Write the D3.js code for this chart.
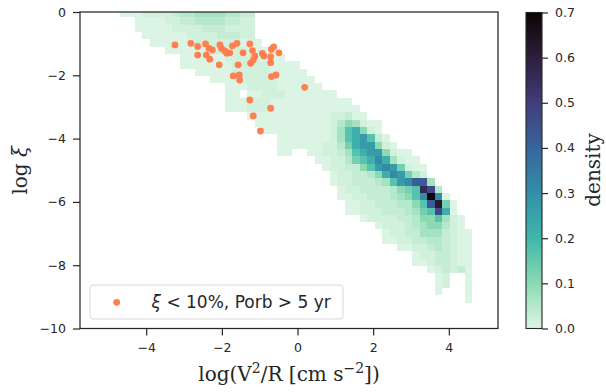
<!DOCTYPE html>
<html>
<head>
<meta charset="utf-8">
<script src="https://cdn.jsdelivr.net/npm/d3@7"></script>
<style>
  html, body { margin: 0; padding: 0; background: #fff; }
  svg { display: block; }
</style>
</head>
<body>
<div id="chart"></div>
<script>
// 2D density of log xi against log(V^2/R), with the long-period, low-xi systems on top.

// Histogram bin grid (data units)
const xBinStart  = -4.697;
const xBinWidth  = 0.1983;
const yBinTop    = 0.064;
const yBinHeight = 0.2312;

// One character per cell -> density
const densityLevels = {
  "1": 0.003, "2": 0.015, "3": 0.03, "4": 0.05, "5": 0.07, "6": 0.10,
  "7": 0.13,  "8": 0.17,  "9": 0.22, "a": 0.27, "b": 0.31, "c": 0.36,
  "d": 0.42,  "e": 0.47,  "f": 0.52, "g": 0.56, "h": 0.62, "i": 0.69
};

// [row, first column, levels]
const heatRows = [
  [0, 0, "111222234455554433"],
  [1, 2, "1111223344443322"],
  [2, 2, "1111122223332222"],
  [3, 3, "111111222233322"],
  [4, 4, "111111222222111"],
  [5, 6, "111111222221111"],
  [6, 8, "11111122221111"],
  [7, 8, "1111111222221111"],
  [8, 10, "111112222211111"],
  [9, 12, "11112222211111"],
  [10, 14, "1112222111111"],
  [11, 14, "11"], [11, 17, "112221111111"],
  [12, 14, "11122211111111111"],
  [13, 14, "111222111111111111"],
  [14, 17, "1111111111122311"],
  [15, 18, "11111111112465211"],
  [16, 19, "1111111112589621"],
  [17, 21, "11111112589a831"],
  [18, 21, "11111122479aa621"],
  [19, 21, "11"], [19, 25, "11223589aa6211"],
  [20, 26, "11224789b95211"],
  [21, 27, "1223368aba7211"],
  [22, 28, "12233469ba742"],
  [23, 28, "122333458abdd5"],
  [24, 29, "12233334678ge4"],
  [25, 29, "11223334568bib1"],
  [26, 30, "11223334468dh71"],
  [27, 30, "112223334578e91"],
  [28, 32, "12222334668521"],
  [29, 34, "122234566421"],
  [30, 35, "122335553211"],
  [31, 35, "112233443211"],
  [32, 37, "1122343211"],
  [33, 39, "12233211"],
  [34, 39, "11233211"],
  [35, 41, "123231"],
  [36, 42, "12"], [36, 46, "1"],
  [37, 42, "12"], [37, 46, "1"],
  [38, 42, "1"],  [38, 46, "1"],
  [39, 46, "1"]
];

// Systems with xi < 10% and Porb > 5 yr
const scatterX = [-3.24, -2.82, -2.64, -2.64, -2.43, -2.34, -2.25, -2.41, -2.32, -2.05,
                  -2.01, -1.92, -1.87, -1.79, -1.72, -1.60, -2.07, -1.57, -1.44, -1.26,
                  -1.19, -1.13, -1.17, -1.24, -0.89, -0.71, -0.69, -0.63, -0.71, -0.49,
                  -1.70, -1.54, -1.53, -0.69, -0.57,  0.19, -1.26, -0.71, -1.17, -0.98,
                  -0.93];
const scatterY = [-1.04, -0.99, -1.09, -1.36, -1.01, -1.15, -1.20, -1.36, -1.49, -1.04,
                  -1.15, -1.23, -1.30, -1.29, -1.07, -0.99, -1.67, -1.67, -1.29, -1.01,
                  -1.22, -1.39, -1.52, -1.62, -1.39, -1.41, -1.18, -1.10, -1.60, -1.29,
                  -2.02, -1.99, -2.15, -2.04, -1.99, -2.38, -2.78, -3.04, -3.28, -3.76,
                  -1.31];

const xTicks    = [-4, -2, 0, 2, 4];
const yTicks    = [0, -2, -4, -6, -8, -10];
const cbarTicks = [0, 0.1, 0.2, 0.3, 0.4, 0.5, 0.6, 0.7];

// mako, reversed
const cmapStops  = [0, 0.1, 0.2, 0.3, 0.4, 0.5, 0.6, 0.7];
const cmapColors = ["#def5e5", "#8bdab2", "#40b7ad", "#348fa7", "#37659e", "#413d7b", "#2e1e3b", "#0b0405"];

const legendLabel = "< 10%, Porb > 5 yr";

const W = 606, H = 392;
const m = { left: 80, right: 498, top: 12, bottom: 328.5 };
const INK  = "#262626";
const SANS = "DejaVu Sans, sans-serif";
const SERIF = "DejaVu Serif, serif";

const x = d3.scaleLinear().domain([-5.75, 5.3]).range([m.left, m.right]);
const y = d3.scaleLinear().domain([-10, 0]).range([m.bottom, m.top]);
const color = d3.scaleLinear().domain(cmapStops).range(cmapColors).clamp(true);

const svg = d3.select("#chart").append("svg")
  .attr("width", W).attr("height", H)
  .attr("viewBox", `0 0 ${W} ${H}`);

svg.append("clipPath").attr("id", "plot-clip")
  .append("rect")
    .attr("x", m.left).attr("y", m.top)
    .attr("width", m.right - m.left).attr("height", m.bottom - m.top);

// Heatmap cells
const cells = [];
heatRows.forEach(([row, col0, levels]) => {
  [...levels].forEach((ch, k) => {
    cells.push({ row, col: col0 + k, v: densityLevels[ch] });
  });
});

svg.append("g")
  .attr("clip-path", "url(#plot-clip)")
  .attr("shape-rendering", "crispEdges")
  .selectAll("rect")
  .data(cells)
  .join("rect")
    .attr("x", d => x(xBinStart + d.col * xBinWidth))
    .attr("y", d => y(yBinTop - d.row * yBinHeight))
    .attr("width", d => x(xBinStart + (d.col + 1) * xBinWidth) - x(xBinStart + d.col * xBinWidth))
    .attr("height", d => y(yBinTop - (d.row + 1) * yBinHeight) - y(yBinTop - d.row * yBinHeight))
    .attr("fill", d => color(d.v));

// Scatter
svg.append("g")
  .selectAll("circle")
  .data(scatterX.map((v, i) => [v, scatterY[i]]))
  .join("circle")
    .attr("cx", d => x(d[0]))
    .attr("cy", d => y(d[1]))
    .attr("r", 3.4)
    .attr("fill", "#ff7f50");

// Axes
function styleAxis(g) {
  g.select(".domain").remove();
  g.selectAll(".tick line").attr("stroke", INK).attr("stroke-width", 1.2);
  g.selectAll(".tick text")
    .attr("fill", INK)
    .attr("font-size", "12.5px")
    .attr("font-family", SANS);
}

svg.append("g")
  .attr("transform", `translate(0,${m.bottom})`)
  .call(d3.axisBottom(x).tickValues(xTicks).tickSize(7).tickPadding(8))
  .call(styleAxis);

svg.append("g")
  .attr("transform", `translate(${m.left},0)`)
  .call(d3.axisLeft(y).tickValues(yTicks).tickSize(7).tickPadding(7))
  .call(styleAxis);

// Spines
svg.append("rect")
  .attr("x", m.left).attr("y", m.top)
  .attr("width", m.right - m.left).attr("height", m.bottom - m.top)
  .attr("fill", "none")
  .attr("stroke", INK)
  .attr("stroke-width", 1.25);

// Axis labels
const xl = svg.append("text")
  .attr("x", (m.left + m.right) / 2).attr("y", 381)
  .attr("text-anchor", "middle")
  .attr("font-family", SERIF).attr("font-size", "20px")
  .attr("fill", INK);
xl.append("tspan").text("log(V");
xl.append("tspan").attr("dy", -8).attr("font-size", "14px").text("2");
xl.append("tspan").attr("dy", 8).text("/R [cm s");
xl.append("tspan").attr("dy", -8).attr("font-size", "14px").text("\u22122");
xl.append("tspan").attr("dy", 8).text("])");

const yl = svg.append("text")
  .attr("transform", `translate(27,${(m.top + m.bottom) / 2}) rotate(-90)`)
  .attr("text-anchor", "middle")
  .attr("font-family", SERIF).attr("font-size", "20px")
  .attr("fill", INK);
yl.append("tspan").text("log ");
yl.append("tspan").attr("font-style", "italic").text("\u03be");

// Legend
const lg = svg.append("g");
lg.append("rect")
  .attr("x", 90).attr("y", 285)
  .attr("width", 253).attr("height", 34)
  .attr("rx", 3)
  .attr("fill", "#fff").attr("fill-opacity", 0.8)
  .attr("stroke", "#d6d6d6").attr("stroke-width", 1);
lg.append("circle")
  .attr("cx", 116.7).attr("cy", 302.3).attr("r", 3.4)
  .attr("fill", "#ff7f50");
const lt = lg.append("text")
  .attr("x", 151.5).attr("y", 308)
  .attr("font-family", SANS).attr("font-size", "17px")
  .attr("fill", INK);
lt.append("tspan").attr("font-style", "italic").text("\u03be");
lt.append("tspan").text(" " + legendLabel);

// Colorbar
const cb = { left: 526, right: 542, top: 12.5, bottom: 328.5 };
const cy = d3.scaleLinear().domain([0, 0.7]).range([cb.bottom, cb.top]);

const grad = svg.append("defs").append("linearGradient")
  .attr("id", "cbar-grad")
  .attr("x1", 0).attr("y1", 1).attr("x2", 0).attr("y2", 0);
grad.selectAll("stop")
  .data(cmapStops)
  .join("stop")
    .attr("offset", d => d / 0.7)
    .attr("stop-color", d => color(d));

svg.append("rect")
  .attr("x", cb.left).attr("y", cb.top)
  .attr("width", cb.right - cb.left).attr("height", cb.bottom - cb.top)
  .attr("fill", "url(#cbar-grad)")
  .attr("stroke", INK).attr("stroke-width", 1.1);

const cbAxis = svg.append("g")
  .attr("transform", `translate(${cb.right},0)`)
  .call(d3.axisRight(cy).tickValues(cbarTicks).tickFormat(d3.format(".1f")).tickSize(6).tickPadding(7))
  .call(styleAxis);

svg.append("text")
  .attr("transform", `translate(600,170) rotate(-90)`)
  .attr("text-anchor", "middle")
  .attr("font-family", SERIF).attr("font-size", "20px")
  .attr("fill", INK)
  .text("density");
</script>
</body>
</html>
